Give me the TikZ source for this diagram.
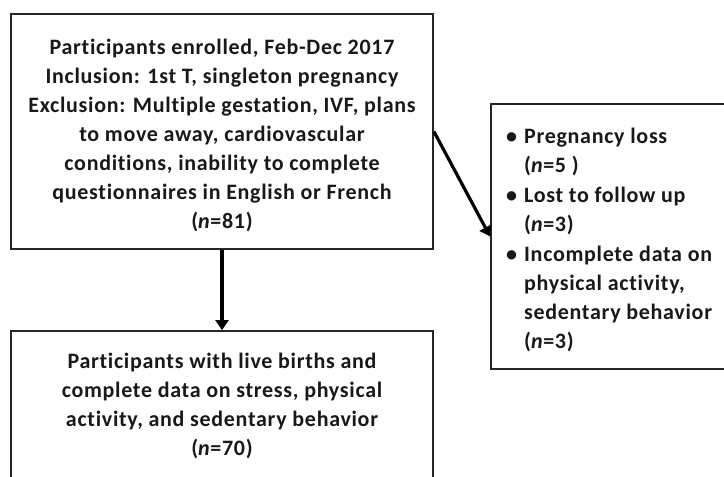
\documentclass[tikz,border=0pt]{standalone}
\usepackage{fontspec}
\setmainfont{Carlito}[LetterSpace=3.2,Ligatures={NoCommon}]
\usetikzlibrary{arrows.meta}
\begin{document}
\begin{tikzpicture}[x=1pt,y=-1pt,
  boxshape/.style={draw=black!85,line width=1.8pt,rectangle,inner sep=0pt},
  txt/.style={font=\fontsize{22}{29}\selectfont\bfseries,text=black!90,inner sep=0pt},
  arr/.style={line width=3.2pt,-{Triangle[length=10pt,width=13pt]}}]
\useasboundingbox (0,0) rectangle (724,477);
\clip (0,0) rectangle (724,477);
\fill[white] (0,0) rectangle (724,477);
% boxes
\node[boxshape,minimum width=422pt,minimum height=235pt] (enr) at (222,131.5) {};
\node[boxshape,minimum width=422pt,minimum height=200pt] (fin) at (222,431) {};
\node[boxshape,minimum width=260pt,minimum height=265pt] (exc) at (621,236.5) {};
% texts
\node[txt,align=center] (t1) at (222,135) {Participants enrolled, Feb-Dec 2017\\
Inclusion: 1st T, singleton pregnancy\\
Exclusion: Multiple gestation, IVF, plans\\
to move away, cardiovascular\\
conditions, inability to complete\\
questionnaires in English or French\\
(\textit{n}=81)};
\node[txt,align=center] (t2) at (222,406) {Participants with live births and\\
complete data on stress, physical\\
activity, and sedentary behavior\\
(\textit{n}=70)};
\node[txt,anchor=west] (t3) at (506,240) {\begin{tabular}{@{}l@{\hspace{7pt}}l@{}}
\textbullet & Pregnancy loss\\
 & (\textit{n}=5 )\\[1pt]
\textbullet & Lost to follow up\\
 & (\textit{n}=3)\\[1pt]
\textbullet & Incomplete data on\\
 & physical activity,\\
 & sedentary behavior\\
 & (\textit{n}=3)
\end{tabular}};
% arrows
\draw[arr] (enr.south) -- (fin.north);
\draw[arr] (enr.east) -- (exc.west);
\end{tikzpicture}
\end{document}
